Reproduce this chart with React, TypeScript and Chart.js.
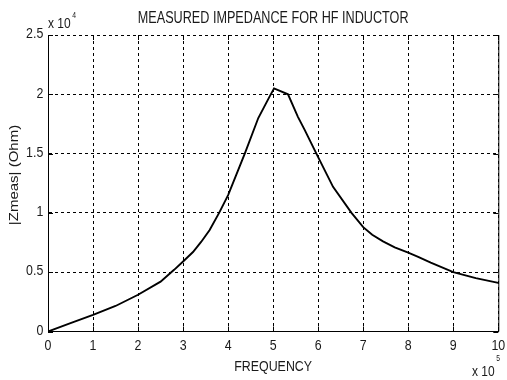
import { useEffect, useRef } from 'react';
import { Chart, registerables } from 'chart.js';

Chart.register(...registerables);

// Frequency in units of 1e5 Hz
const freq = [0, 0.5, 1, 1.5, 2, 2.5, 2.8, 3, 3.22, 3.4, 3.59, 3.8, 4, 4.37, 4.67, 4.92, 5.02, 5.33, 5.55, 5.7, 5.96, 6.33, 6.74, 7, 7.2, 7.44, 7.7, 8, 8.22, 8.5, 9, 9.5, 10];
// |Zmeas| in units of 1e4 Ohm
const zmeas = [0, 0.07, 0.14, 0.215, 0.31, 0.42, 0.52, 0.59, 0.67, 0.755, 0.856, 1.0, 1.15, 1.5, 1.8, 1.98, 2.05, 2.0, 1.81, 1.7, 1.5, 1.22, 1.0, 0.88, 0.815, 0.76, 0.71, 0.665, 0.63, 0.58, 0.5, 0.45, 0.41];

const xTicks = [0, 1, 2, 3, 4, 5, 6, 7, 8, 9, 10];
const yTicks = [0, 0.5, 1, 1.5, 2, 2.5];

const titleText = 'MEASURED IMPEDANCE FOR HF INDUCTOR';
const xTitle = 'FREQUENCY';
const yTitle = '|Zmeas| (Ohm)';
const yExponent = '4';
const xExponent = '5';

const SANS = '"Liberation Sans", Arial, sans-serif';
const TEXT = '#1a1a1a';
const SX = 0.8;

function txt(ctx: any, s: string, x: number, y: number, size: number, align: string) {
  ctx.save();
  ctx.translate(x, y);
  ctx.scale(SX, 1);
  ctx.font = `${size}px ${SANS}`;
  ctx.textAlign = align;
  ctx.textBaseline = 'middle';
  ctx.fillText(s, 0, 0);
  ctx.restore();
}

function txtWidth(ctx: any, s: string, size: number) {
  ctx.save();
  ctx.font = `${size}px ${SANS}`;
  const w = ctx.measureText(s).width * SX;
  ctx.restore();
  return w;
}

const decorPlugin = {
  id: 'decor',
  afterDraw(chart: any) {
    const { ctx, chartArea, scales } = chart;
    const { left, right, top, bottom } = chartArea;
    ctx.save();
    ctx.setLineDash([]);
    ctx.strokeStyle = '#000';
    ctx.lineWidth = 1;
    // right solid border
    ctx.beginPath();
    ctx.moveTo(right + 0.5, top);
    ctx.lineTo(right + 0.5, bottom);
    ctx.stroke();
    // inward ticks
    const tl = 5;
    ctx.beginPath();
    xTicks.forEach((v) => {
      const px = Math.round(scales.x.getPixelForValue(v)) + 0.5;
      ctx.moveTo(px, bottom);
      ctx.lineTo(px, bottom - tl);
      ctx.moveTo(px, top);
      ctx.lineTo(px, top + tl);
    });
    yTicks.forEach((v) => {
      const py = Math.round(scales.y.getPixelForValue(v)) + 0.5;
      ctx.moveTo(left, py);
      ctx.lineTo(left + tl, py);
      ctx.moveTo(right, py);
      ctx.lineTo(right - tl, py);
    });
    ctx.stroke();

    ctx.fillStyle = TEXT;
    // tick labels
    xTicks.forEach((v) => {
      txt(ctx, String(v), scales.x.getPixelForValue(v), bottom + 14.5, 15.5, 'center');
    });
    yTicks.forEach((v) => {
      txt(ctx, String(v), left - 4.7, scales.y.getPixelForValue(v) - 1, 15.5, 'right');
    });
    // title
    txt(ctx, titleText, (left + right) / 2, 18.5, 15.8, 'center');
    // x title
    txt(ctx, xTitle, (left + right) / 2, 366.5, 15.5, 'center');
    // y title (rotated)
    ctx.save();
    ctx.translate(14, 175);
    ctx.rotate(-Math.PI / 2);
    ctx.scale(1, 0.88);
    ctx.font = `15px ${SANS}`;
    ctx.textAlign = 'center';
    ctx.textBaseline = 'middle';
    ctx.fillText(yTitle, 0, 0);
    ctx.restore();
    // y exponent
    txt(ctx, 'x 10', left, 24, 15, 'left');
    const w4 = txtWidth(ctx, 'x 10', 15);
    txt(ctx, yExponent, left + w4 + 1.5, 15.5, 8.5, 'left');
    // x exponent
    const ex = 472;
    txt(ctx, 'x 10', ex, 372, 15, 'left');
    const w5 = txtWidth(ctx, 'x 10', 15);
    txt(ctx, xExponent, ex + w5 + 1.5, 359, 8.5, 'left');
    ctx.restore();
  },
};

export default function App() {
  const ref = useRef<HTMLCanvasElement | null>(null);
  useEffect(() => {
    document.body.style.margin = '0';
    if (!ref.current) return;
    const chart = new Chart(ref.current, {
      type: 'line',
      data: {
        datasets: [
          {
            data: freq.map((f, i) => ({ x: f, y: zmeas[i] })),
            borderColor: '#000',
            borderWidth: 1.9,
            pointRadius: 0,
            tension: 0,
            fill: false,
          },
        ],
      },
      options: {
        animation: false,
        responsive: true,
        maintainAspectRatio: false,
        layout: { padding: { top: 35, right: 8.7, left: 0, bottom: 0 } },
        plugins: {
          legend: { display: false },
          tooltip: { enabled: false },
          title: { display: false },
        },
        scales: {
          x: {
            type: 'linear',
            min: 0,
            max: 10,
            ticks: { stepSize: 1, display: false },
            grid: { color: '#000', lineWidth: 1, drawTicks: false },
            border: { display: true, color: '#000', width: 1, dash: [3, 3] },
            title: { display: false, text: xTitle },
            afterFit(scale: any) {
              scale.height = 48.5;
            },
          },
          y: {
            type: 'linear',
            min: 0,
            max: 2.5,
            ticks: { stepSize: 0.5, display: false },
            grid: { color: '#000', lineWidth: 1, drawTicks: false },
            border: { display: true, color: '#000', width: 1, dash: [3, 3] },
            title: { display: false, text: yTitle },
            afterFit(scale: any) {
              scale.width = 48;
            },
          },
        },
      },
      plugins: [decorPlugin],
    });
    return () => chart.destroy();
  }, []);
  return (
    <div style={{ position: 'fixed', left: 0, top: 0, width: 507, height: 380, background: '#fff' }}>
      <canvas ref={ref} />
    </div>
  );
}
